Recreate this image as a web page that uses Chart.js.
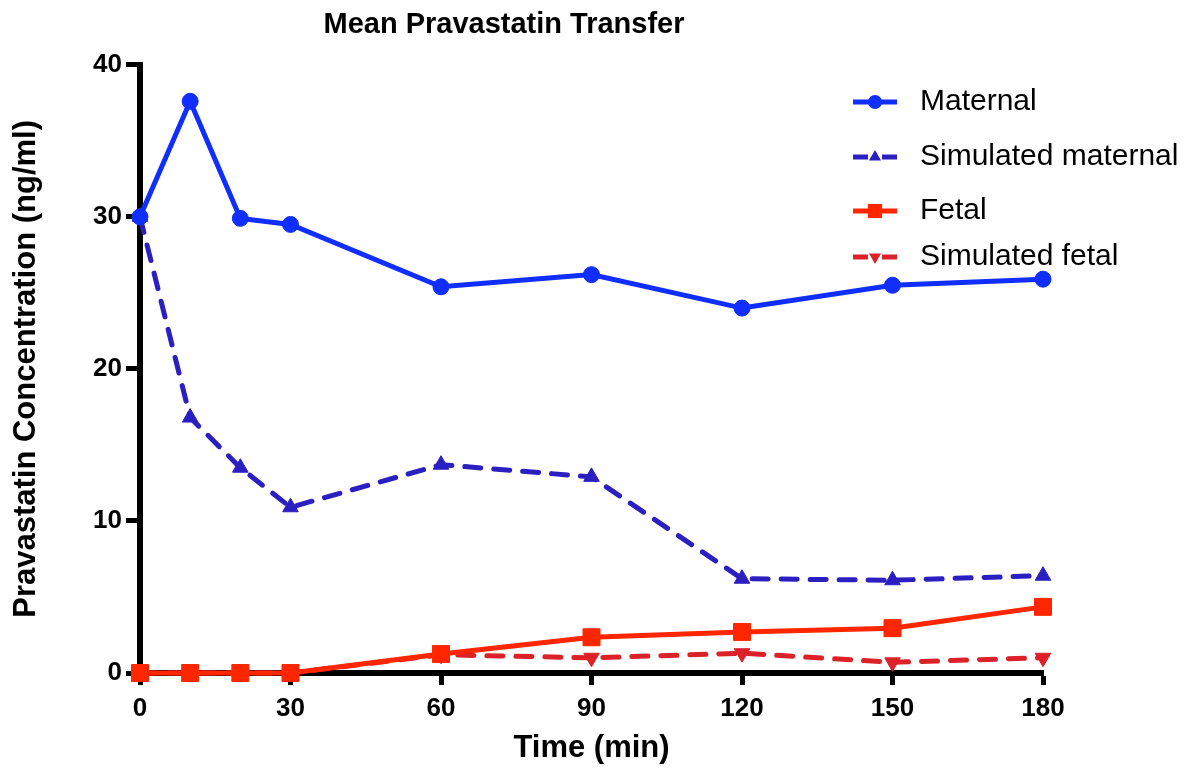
<!DOCTYPE html>
<html>
<head>
<meta charset="utf-8">
<title>Mean Pravastatin Transfer</title>
<script src="https://cdn.jsdelivr.net/npm/chart.js@4.4.1/dist/chart.umd.min.js"></script>
<style>
  html, body { margin: 0; padding: 0; background: #fff; }
  #wrap { width: 1202px; height: 771px; }
</style>
</head>
<body>
<div id="wrap"><canvas id="transfer-chart"></canvas></div>
<script>
// values (ng/ml)
const times = [0, 10, 20, 30, 60, 90, 120, 150, 180];
const maternal = [30.0, 37.6, 29.9, 29.5, 25.4, 26.2, 24.0, 25.5, 25.9];
const simulatedMaternal = [30.0, 16.8, 13.5, 10.9, 13.7, 12.9, 6.2, 6.1, 6.4];
const fetal = [0, 0, 0, 0, 1.25, 2.35, 2.7, 2.95, 4.35];
const simulatedFetal = [0, 0, 0, 0, 1.2, 1.0, 1.3, 0.7, 1.0];
const xTicks = [0, 30, 60, 90, 120, 150, 180];
const yTicks = [0, 10, 20, 30, 40];

const FONT = "'Liberation Sans', Arial, sans-serif";
Chart.defaults.font.family = FONT;
Chart.defaults.color = '#000';

function series(label, values, color, style, extra) {
    return Object.assign({
        label: label,
        data: times.map((t, i) => ({ x: t, y: values[i] })),
        borderColor: color,
        backgroundColor: color,
        pointBackgroundColor: color,
        pointBorderColor: color,
        borderWidth: 5,
        pointStyle: style,
        pointRadius: 8,
        pointHoverRadius: 8,
        pointBorderWidth: 1,
        tension: 0,
        clip: false
    }, extra || {});
}

// legend drawn like the GraphPad key: short line, marker, label
const legendRows = [102, 157, 211, 257];
const keyPlugin = {
    id: 'key',
    afterDatasetsDraw(chart) {
        const ctx = chart.ctx;
        const x0 = 853, x1 = 897, xm = 875;
        ctx.save();
        chart.data.datasets.forEach((ds, i) => {
            const y = legendRows[i];
            ctx.strokeStyle = ds.borderColor;
            ctx.lineWidth = 5;
            ctx.beginPath();
            if (ds.borderDash) {
                ctx.moveTo(x0, y); ctx.lineTo(xm - 7, y);
                ctx.moveTo(xm + 7, y); ctx.lineTo(x1, y);
            } else {
                ctx.moveTo(x0, y); ctx.lineTo(x1, y);
            }
            ctx.stroke();
            ctx.fillStyle = ds.borderColor;
            Chart.helpers.drawPoint(ctx, {
                pointStyle: ds.pointStyle,
                rotation: ds.pointRotation || 0,
                radius: ds.pointStyle === 'rect' ? 10 : 7,
                borderWidth: 0
            }, xm, y);
            ctx.fillStyle = '#000';
            ctx.font = '30px ' + FONT;
            ctx.textBaseline = 'middle';
            ctx.textAlign = 'left';
            ctx.fillText(ds.label, 920, y);
        });
        ctx.restore();
    },
    afterLayout(chart) {
        // GraphPad centres the title a bit left of the plot
        const t = chart.titleBlock;
        if (t) {
            const half = (t.right - t.left) / 2;
            t.left = 504 - half;
            t.right = 504 + half;
        }
    }
};

new Chart(document.getElementById('transfer-chart'), {
    type: 'line',
    data: {
        datasets: [
            series('Maternal', maternal, '#0f2eff', 'circle'),
            series('Simulated maternal', simulatedMaternal, '#2b1fc2', 'triangle', {
                borderDash: [16, 13], borderCapStyle: 'round', pointRadius: 9, pointHoverRadius: 9
            }),
            series('Fetal', fetal, '#ff2600', 'rect', { pointRadius: 12, pointHoverRadius: 12 }),
            series('Simulated fetal', simulatedFetal, '#dc2228', 'triangle', {
                borderDash: [16, 13], borderCapStyle: 'round', pointRotation: 180, pointRadius: 9, pointHoverRadius: 9
            })
        ]
    },
    options: {
        responsive: true,
        maintainAspectRatio: false,
        animation: false,
        layout: { padding: { left: 0, right: 159, top: 0, bottom: 0 } },
        plugins: {
            legend: { display: false },
            tooltip: { enabled: false },
            title: {
                display: true,
                text: 'Mean Pravastatin Transfer',
                color: '#000',
                font: { size: 29, weight: 'bold' },
                padding: { top: 8, bottom: 22 }
            }
        },
        scales: {
            x: {
                type: 'linear',
                min: 0,
                max: 180,
                afterBuildTicks: s => { s.ticks = xTicks.map(v => ({ value: v })); },
                afterFit: s => { s.height = 98; },
                border: { display: true, color: '#000', width: 6 },
                grid: { drawOnChartArea: false, drawTicks: true, tickLength: 12, tickWidth: 5, tickColor: '#000' },
                ticks: { padding: 8, maxRotation: 0, font: { size: 26, weight: 'bold' } },
                title: {
                    display: true,
                    text: 'Time (min)',
                    font: { size: 31, weight: 'bold' },
                    padding: { top: 0, bottom: 4 }
                }
            },
            y: {
                min: 0,
                max: 40,
                afterBuildTicks: s => { s.ticks = yTicks.map(v => ({ value: v })); },
                afterFit: s => { s.width = 140; },
                border: { display: true, color: '#000', width: 6 },
                grid: { drawOnChartArea: false, drawTicks: true, tickLength: 14, tickWidth: 5, tickColor: '#000' },
                ticks: { padding: 4, font: { size: 26, weight: 'bold' } },
                title: {
                    display: true,
                    text: 'Pravastatin Concentration (ng/ml)',
                    font: { size: 31, weight: 'bold' },
                    padding: { top: 8, bottom: 0 }
                }
            }
        }
    },
    plugins: [keyPlugin]
});
</script>
</body>
</html>
